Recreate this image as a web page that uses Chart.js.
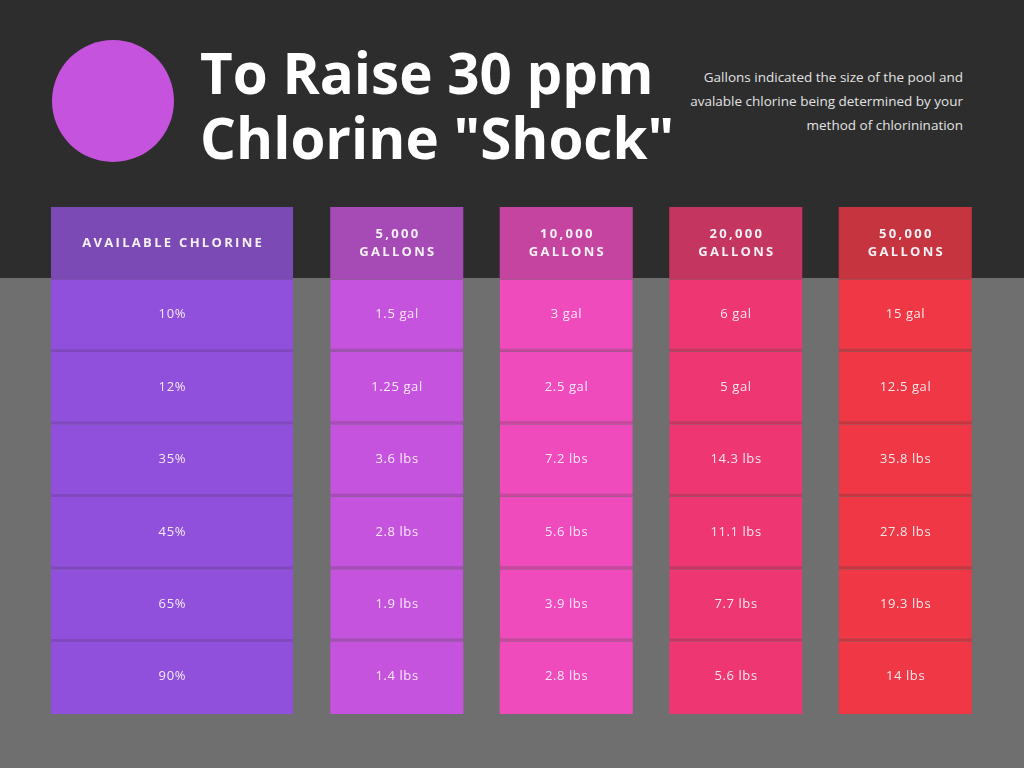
<!DOCTYPE html>
<html lang="en">
<head>
  <meta charset="UTF-8" />
  <title>To Raise 30 ppm Chlorine "Shock"</title>
  <script src="https://cdn.jsdelivr.net/npm/chart.js"></script>
  <style>
    body {
      margin: 0;
      width: 1024px;
      height: 768px;
      overflow: hidden;
      position: relative;
      background: linear-gradient(#2d2d2d 0 278px, #6f6f6f 278px);
      font-family: "Open Sans", sans-serif;
    }
    .dot {
      position: absolute;
      left: 52px;
      top: 40px;
      width: 122px;
      height: 122px;
      border-radius: 50%;
      background: #c653dd;
    }
    h1 {
      position: absolute;
      left: 200px;
      top: 40px;
      margin: 0;
      font-size: 56.5px;
      line-height: 65px;
      font-weight: 700;
      color: #fff;
      white-space: nowrap;
    }
    .note {
      position: absolute;
      right: 61px;
      top: 65px;
      margin: 0;
      font-size: 13.5px;
      line-height: 24px;
      color: #e2e2e2;
      text-align: right;
    }
    .wrap {
      position: absolute;
      top: 207px;
      height: 507px;
    }
    #labelWrap { left: 51px; width: 242px; }
    #doseWrap { left: 312px; width: 678px; }
  </style>
</head>
<body>
  <div class="dot"></div>
  <h1>To Raise 30 ppm<br>Chlorine "Shock"</h1>
  <p class="note">Gallons indicated the size of the pool and<br>avalable chlorine being determined by your<br>method of chlorinination</p>

  <div class="wrap" id="labelWrap"><canvas id="labelChart"></canvas></div>
  <div class="wrap" id="doseWrap"><canvas id="doseChart"></canvas></div>

  <script>
    // table content
    const chlorineHeader = 'AVAILABLE CHLORINE';
    const chlorineLevels = ['10%', '12%', '35%', '45%', '65%', '90%'];
    const poolSizes = [['5,000', 'GALLONS'], ['10,000', 'GALLONS'], ['20,000', 'GALLONS'], ['50,000', 'GALLONS']];
    const dose5k = ['1.5 gal', '1.25 gal', '3.6 lbs', '2.8 lbs', '1.9 lbs', '1.4 lbs'];
    const dose10k = ['3 gal', '2.5 gal', '7.2 lbs', '5.6 lbs', '3.9 lbs', '2.8 lbs'];
    const dose20k = ['6 gal', '5 gal', '14.3 lbs', '11.1 lbs', '7.7 lbs', '5.6 lbs'];
    const dose50k = ['15 gal', '12.5 gal', '35.8 lbs', '27.8 lbs', '19.3 lbs', '14 lbs'];

    // column colours: header, body, row divider
    const labelPalette = [
      { head: '#7c4ab5', body: '#9150db', line: '#7f48bd' }
    ];
    const dosePalette = [
      { head: '#a64bb6', body: '#c653dd', line: '#aa4bbd' },
      { head: '#c4449f', body: '#ef4bbd', line: '#cc459f' },
      { head: '#c43560', body: '#ee3672', line: '#c93560' },
      { head: '#c5343f', body: '#ef3746', line: '#c9343f' }
    ];

    const cellText = {
      id: 'cellText',
      afterDatasetsDraw(chart) {
        const ctx = chart.ctx;
        ctx.save();
        ctx.textAlign = 'center';
        ctx.textBaseline = 'middle';
        chart.data.datasets.forEach((ds, r) => {
          chart.getDatasetMeta(r).data.forEach((bar, c) => {
            const lines = [].concat(ds.cells[c]);
            const cy = (bar.y + bar.base) / 2;
            if (r === 0) {
              ctx.font = 'bold 13px "Open Sans"';
              ctx.letterSpacing = '2.3px';
              ctx.fillStyle = '#f6f1f7';
              lines.forEach((t, i) => {
                const y = cy + (i - (lines.length - 1) / 2) * 18;
                ctx.fillText(t, bar.x + 1.2, y);
              });
            } else {
              ctx.font = '13px "Open Sans"';
              ctx.letterSpacing = '0.6px';
              ctx.fillStyle = 'rgba(255,255,255,0.88)';
              ctx.fillText(lines[0], bar.x + 0.3, cy - 1);
            }
          });
        });
        ctx.restore();
      }
    };

    function tableChart(id, headers, columns, palette, barPct) {
      const rowCount = columns[0].length + 1;
      const datasets = [];
      for (let r = 0; r < rowCount; r++) {
        datasets.push({
          data: headers.map(() => [r, r + 1]),
          cells: r === 0 ? headers : columns.map(col => col[r - 1]),
          grouped: false,
          barPercentage: barPct,
          categoryPercentage: 1,
          backgroundColor: ctx => r === 0 ? palette[ctx.dataIndex].head : palette[ctx.dataIndex].body,
          borderColor: ctx => palette[ctx.dataIndex].line,
          borderWidth: r >= 1 && r < rowCount - 1 ? { top: 0, right: 0, bottom: 3, left: 0 } : 0,
          borderSkipped: false
        });
      }
      return new Chart(document.getElementById(id), {
        type: 'bar',
        data: { labels: headers, datasets },
        options: {
          responsive: true,
          maintainAspectRatio: false,
          animation: false,
          layout: { padding: 0 },
          scales: {
            x: { display: false },
            y: { display: false, min: 0, max: rowCount, reverse: true }
          },
          plugins: {
            legend: { display: false },
            tooltip: { enabled: false }
          }
        },
        plugins: [cellText]
      });
    }

    tableChart('labelChart', [chlorineHeader], [chlorineLevels], labelPalette, 1);
    tableChart('doseChart', poolSizes, [dose5k, dose10k, dose20k, dose50k], dosePalette, 0.785);
  </script>
</body>
</html>
